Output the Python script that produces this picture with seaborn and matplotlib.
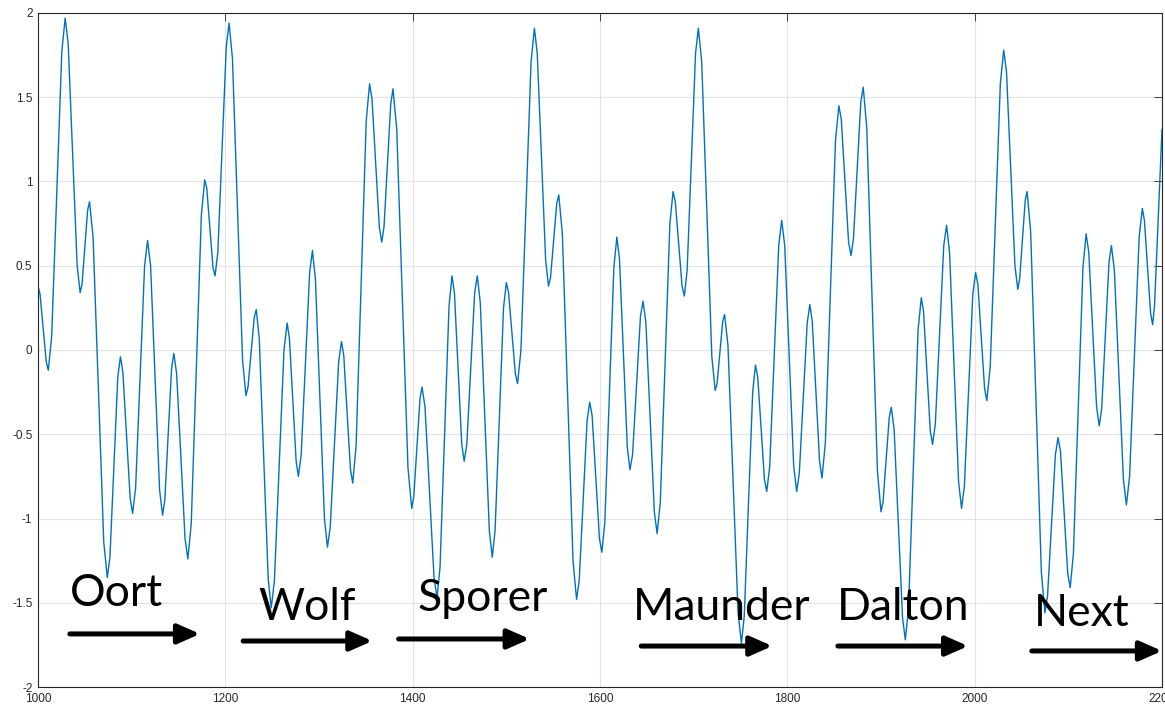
import pandas as pd
import seaborn as sns
import matplotlib.pyplot as plt

# peaks and troughs of the curve
years = [1000, 1011, 1029, 1045, 1055, 1074, 1088, 1101, 1117, 1133,
         1145, 1160, 1178, 1189, 1204, 1222, 1233, 1249, 1266, 1278,
         1293, 1309, 1324, 1336, 1354, 1367, 1379, 1399, 1410, 1426,
         1442, 1455, 1469, 1485, 1500, 1512, 1530, 1545, 1556, 1575,
         1589, 1602, 1618, 1632, 1646, 1661, 1678, 1690, 1705, 1723,
         1733, 1751, 1766, 1778, 1794, 1810, 1824, 1837, 1855, 1868,
         1881, 1900, 1911, 1926, 1943, 1955, 1970, 1986, 2001, 2013,
         2031, 2046, 2056, 2075, 2089, 2102, 2119, 2133, 2146, 2162,
         2179, 2190, 2200]
values = [0.38, -0.12, 1.97, 0.34, 0.88, -1.35, -0.04, -0.97, 0.65, -0.98,
          -0.02, -1.24, 1.01, 0.44, 1.94, -0.27, 0.24, -1.53, 0.16, -0.75,
          0.59, -1.17, 0.05, -0.79, 1.58, 0.64, 1.55, -0.94, -0.22, -1.47,
          0.44, -0.66, 0.44, -1.23, 0.40, -0.20, 1.91, 0.38, 0.92, -1.48,
          -0.31, -1.20, 0.67, -0.71, 0.29, -1.09, 0.94, 0.32, 1.91, -0.24,
          0.21, -1.74, -0.09, -0.84, 0.77, -0.84, 0.27, -0.76, 1.45, 0.56,
          1.56, -0.96, -0.34, -1.72, 0.31, -0.56, 0.74, -0.94, 0.46, -0.30,
          1.78, 0.36, 0.94, -1.56, -0.52, -1.41, 0.69, -0.45, 0.62, -0.92,
          0.84, 0.15, 1.31]

# shoulder points near the rounded tips
shoulder_years = [1002.2, 1008.8, 1014.6, 1025.4, 1032.2, 1041.8, 1047, 1053,
                  1058.8, 1070.2, 1076.8, 1085.2, 1090.6, 1098.4, 1104.2, 1113.8,
                  1120.2, 1129.8, 1135.4, 1142.6, 1148, 1157, 1163.6, 1174.4,
                  1180.2, 1186.8, 1192, 1201, 1207.6, 1218.4, 1224.2, 1230.8,
                  1236.2, 1245.8, 1252.4, 1262.6, 1268.4, 1275.6, 1281, 1290,
                  1296.2, 1305.8, 1312, 1321, 1326.4, 1333.6, 1339.6, 1350.4,
                  1356.6, 1364.4, 1369.4, 1376.6, 1383, 1395, 1401.2, 1407.8,
                  1413.2, 1422.8, 1429.2, 1438.8, 1444.6, 1452.4, 1457.8, 1466.2,
                  1472.2, 1481.8, 1488, 1497, 1502.4, 1509.6, 1515.6, 1526.4,
                  1533, 1542, 1547.2, 1553.8, 1559.8, 1571.2, 1577.8, 1586.2,
                  1591.6, 1599.4, 1605.2, 1614.8, 1620.8, 1629.2, 1634.8, 1643.2,
                  1649, 1658, 1664.4, 1674.6, 1680.4, 1687.6, 1693, 1702,
                  1708.6, 1719.4, 1725, 1731, 1736.6, 1747.4, 1754, 1763,
                  1768.4, 1775.6, 1781.2, 1790.8, 1797.2, 1806.8, 1812.8, 1821.2,
                  1826.6, 1834.4, 1840.6, 1851.4, 1857.6, 1865.4, 1870.6, 1878.4,
                  1884.8, 1896.2, 1902.2, 1908.8, 1914, 1923, 1929.4, 1939.6,
                  1945.4, 1952.6, 1958, 1967, 1973.2, 1982.8, 1989, 1998,
                  2003.4, 2010.6, 2016.6, 2027.4, 2034, 2043, 2048, 2054,
                  2059.8, 2071.2, 2077.8, 2086.2, 2091.6, 2099.4, 2105.4, 2115.6,
                  2121.8, 2130.2, 2135.6, 2143.4, 2149.2, 2158.8, 2165.4, 2175.6,
                  2181.2, 2187.8, 2192]
shoulder_values = [0.33, -0.07, 0.08, 1.77, 1.82, 0.50, 0.39, 0.83,
                   0.67, -1.14, -1.23, -0.16, -0.13, -0.88, -0.82, 0.50,
                   0.50, -0.83, -0.89, -0.11, -0.14, -1.12, -1.03, 0.80,
                   0.96, 0.49, 0.58, 1.80, 1.73, -0.06, -0.22, 0.19,
                   0.07, -1.36, -1.37, 0.00, 0.07, -0.66, -0.62, 0.46,
                   0.42, -1.00, -1.05, -0.07, -0.03, -0.71, -0.57, 1.36,
                   1.49, 0.73, 0.73, 1.46, 1.31, -0.70, -0.87, -0.29,
                   -0.34, -1.35, -1.29, 0.26, 0.34, -0.56, -0.56, 0.34,
                   0.28, -1.07, -1.07, 0.25, 0.34, -0.14, 0.00, 1.71,
                   1.76, 0.53, 0.43, 0.87, 0.69, -1.25, -1.37, -0.42,
                   -0.39, -1.12, -1.02, 0.49, 0.54, -0.58, -0.62, 0.20,
                   0.16, -0.96, -0.90, 0.75, 0.88, 0.38, 0.47, 1.76,
                   1.71, -0.04, -0.20, 0.17, 0.03, -1.56, -1.58, -0.25,
                   -0.16, -0.77, -0.69, 0.62, 0.62, -0.69, -0.73, 0.16,
                   0.17, -0.66, -0.55, 1.24, 1.37, 0.64, 0.66, 1.47,
                   1.32, -0.72, -0.90, -0.40, -0.47, -1.59, -1.53, 0.12,
                   0.23, -0.48, -0.44, 0.62, 0.58, -0.78, -0.81, 0.33,
                   0.39, -0.23, -0.10, 1.58, 1.65, 0.50, 0.42, 0.89,
                   0.70, -1.32, -1.46, -0.62, -0.60, -1.33, -1.21, 0.49,
                   0.58, -0.34, -0.35, 0.52, 0.47, -0.77, -0.75, 0.67,
                   0.77, 0.22, 0.26]

xticks = [1000, 1200, 1400, 1600, 1800, 2000, 2200]
yticks = [-2, -1.5, -1, -0.5, 0, 0.5, 1, 1.5, 2]
ytick_labels = ['-2', '-1.5', '-1', '-0.5', '0', '0.5', '1', '1.5', '2']

# grand minima: name, text start, arrow start/end
minima = ['Oort', 'Wolf', 'Sporer', 'Maunder', 'Dalton', 'Next']
label_x = [1034, 1235, 1405, 1635, 1853, 2063]
label_y = [-1.52, -1.60, -1.55, -1.60, -1.60, -1.64]
arrow_x0 = [1034, 1219, 1385, 1644, 1854, 2061]
arrow_x1 = [1173, 1357, 1525, 1784, 1993, 2200]
arrow_y = [-1.685, -1.727, -1.715, -1.757, -1.757, -1.786]

df = pd.DataFrame({"Year": years + shoulder_years,
                   "Value": values + shoulder_values})
df = df.sort_values("Year")

sns.set_style("whitegrid")
plt.rcParams['font.family'] = ['Liberation Sans', 'DejaVu Sans']

fig = plt.figure(figsize=(11.65, 7.08), dpi=100)
ax = fig.add_axes([38 / 1165, 21 / 708, 1124 / 1165, 674 / 708])

sns.lineplot(x="Year", y="Value", data=df, ax=ax, color="#0072BD",
             linewidth=1.0, sort=False)
ax.lines[0].set_solid_joinstyle("round")

ax.set_xlim(1000, 2200)
ax.set_ylim(-2, 2)
ax.set_xticks(xticks)
ax.set_yticks(yticks)
ax.set_yticklabels(ytick_labels)
ax.set_xlabel("")
ax.set_ylabel("")
ax.grid(True, color="#e3e3e3", linewidth=0.8)
for s in ax.spines.values():
    s.set_color("#262626")
    s.set_linewidth(0.8)
ax.tick_params(direction="in", length=6, width=0.6, colors="#262626",
               labelsize=8.5, top=True, right=True, pad=4)

for name, tx, ty, x0, x1, ay in zip(minima, label_x, label_y,
                                     arrow_x0, arrow_x1, arrow_y):
    ax.text(tx, ty, name, fontsize=32, family=['Lato', 'DejaVu Sans'],
            color="black", va="baseline", ha="left", zorder=5)
    ax.annotate("", xy=(x1, ay), xytext=(x0, ay),
                arrowprops=dict(arrowstyle="-|>,head_length=0.95,head_width=0.42",
                                lw=3.6, color="black", mutation_scale=14,
                                shrinkA=0, shrinkB=0),
                annotation_clip=False, zorder=5)

plt.savefig("out.png", dpi=100)
